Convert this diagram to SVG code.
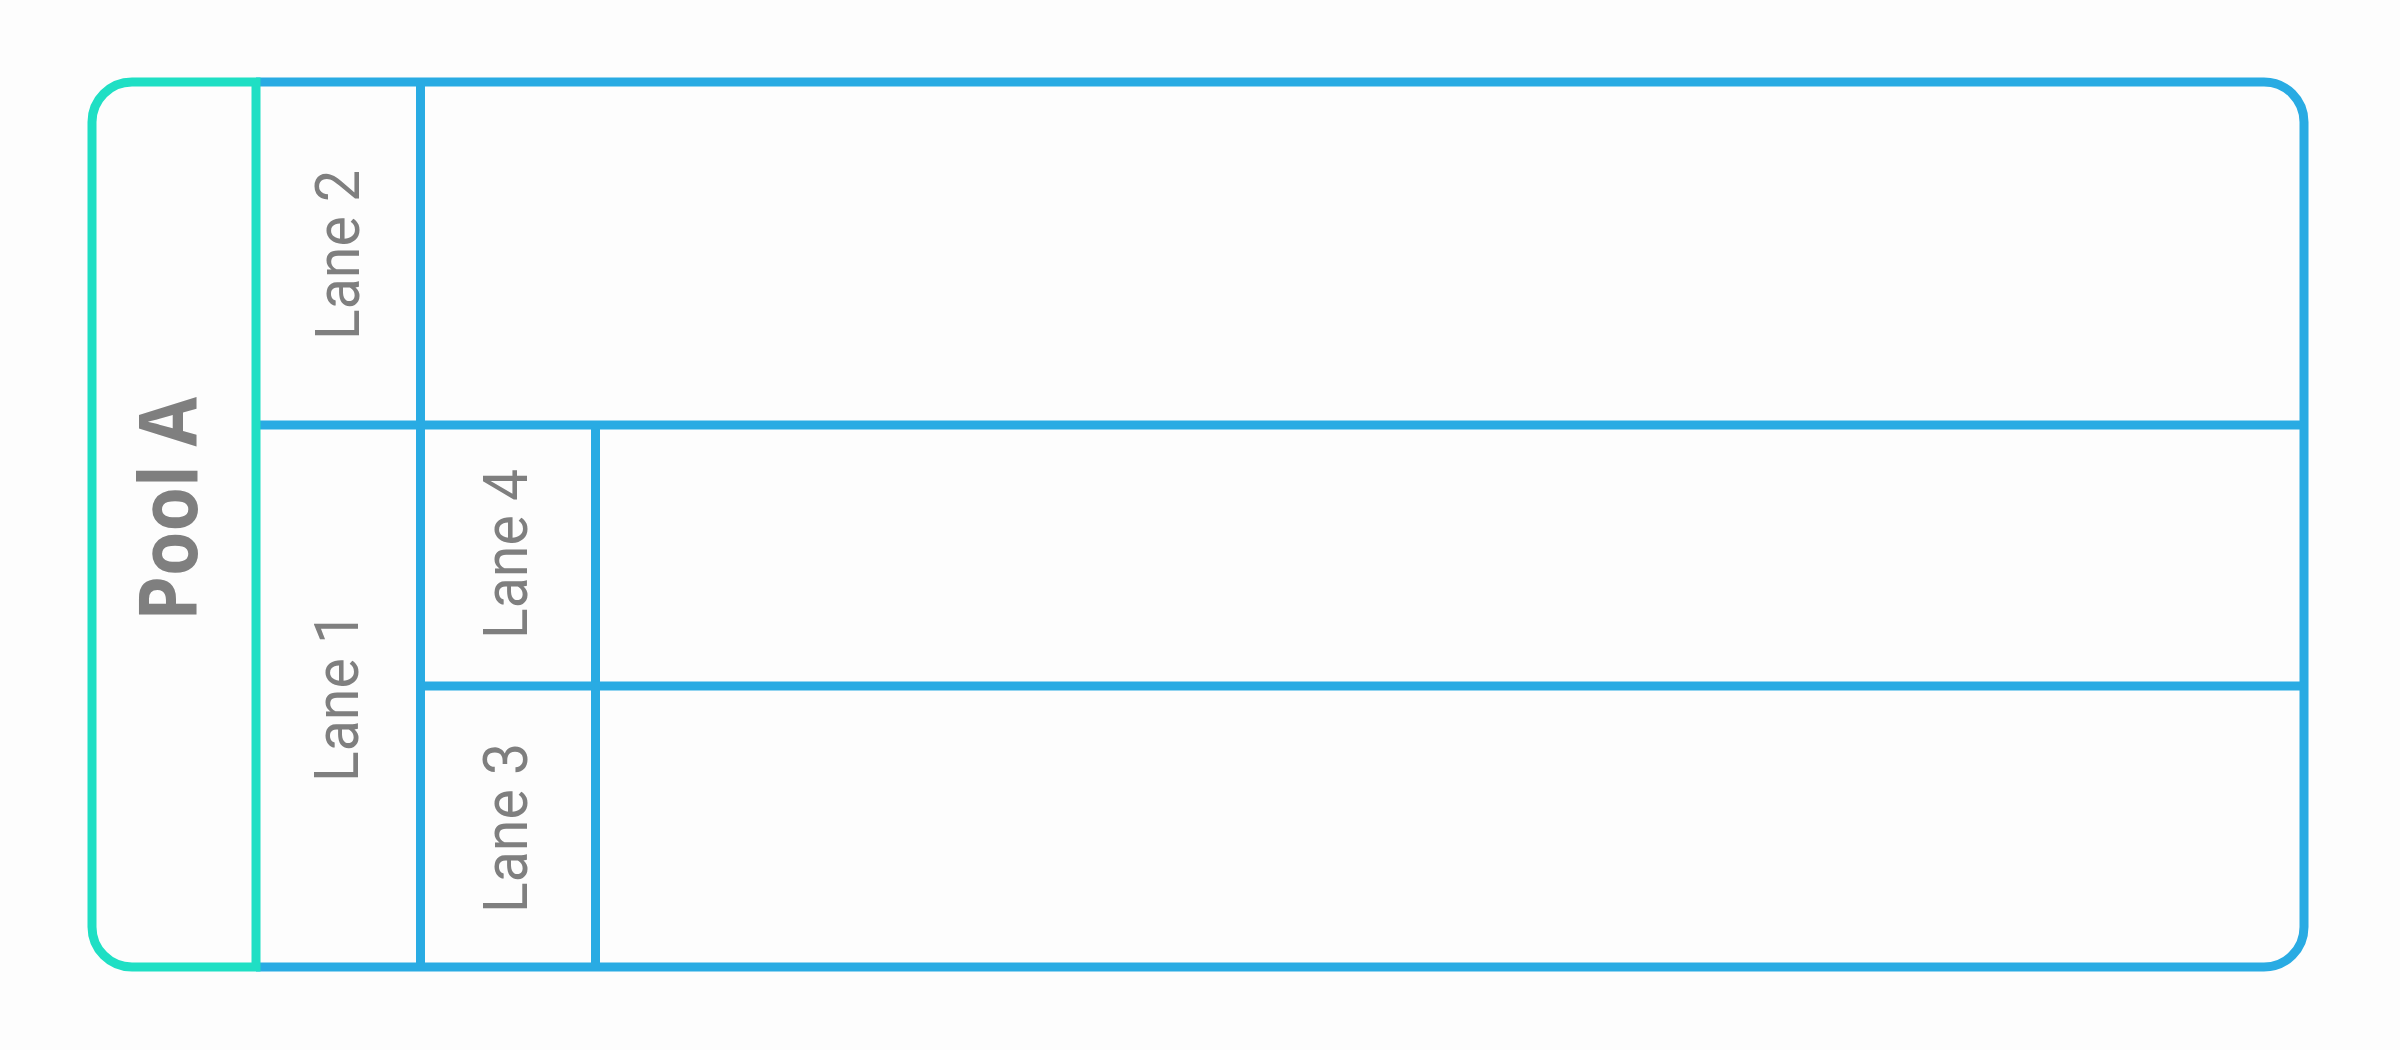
<svg xmlns="http://www.w3.org/2000/svg" width="2400" height="1050" viewBox="0 0 2400 1050">
  <style>
    .blue { fill: none; stroke: #29abe3; stroke-width: 9; }
    .teal { fill: none; stroke: #1fdfc4; stroke-width: 9; }
    .lbl { font-family: Roboto, "Open Sans", "Liberation Sans", sans-serif; font-size: 62px; font-weight: normal; fill: #7f7f7f; text-anchor: middle; }
    .pool { font-family: "Open Sans", "Liberation Sans", sans-serif; font-size: 80px; font-weight: bold; fill: #7f7f7f; text-anchor: middle; }
  </style>
  <rect x="0" y="0" width="2400" height="1050" fill="#fdfdfd"/>
  <g id="connectors"/>
  <g id="lanes-body">
    <path class="blue" d="M 256 82 H 2264 A 40 40 0 0 1 2304 122 V 927 A 40 40 0 0 1 2264 967 H 256"/>
  </g>
  <g id="lane2">
    <line class="blue" x1="256" y1="425" x2="2304" y2="425"/>
    <line class="blue" x1="420.5" y1="82" x2="420.5" y2="967"/>
    <text class="lbl" transform="translate(359,255) rotate(-90)" textLength="170" lengthAdjust="spacingAndGlyphs">Lane 2</text>
  </g>
  <g id="lane1">
    <line class="blue" x1="595.5" y1="425" x2="595.5" y2="967"/>
    <text class="lbl" transform="translate(358,697) rotate(-90)" textLength="170" lengthAdjust="spacingAndGlyphs">Lane 1</text>
  </g>
  <g id="lane4">
    <line class="blue" x1="420.5" y1="686" x2="2304" y2="686"/>
    <text class="lbl" transform="translate(527,554) rotate(-90)" textLength="170" lengthAdjust="spacingAndGlyphs">Lane 4</text>
  </g>
  <g id="lane3">
    <text class="lbl" transform="translate(527,828) rotate(-90)" textLength="170" lengthAdjust="spacingAndGlyphs">Lane 3</text>
  </g>
  <g id="poolA">
    <path class="teal" d="M 256 82 H 132 A 40 40 0 0 0 92 122 V 927 A 40 40 0 0 0 132 967 H 256 Z"/>
    <text class="pool" transform="translate(197,509) rotate(-90)" textLength="224" lengthAdjust="spacingAndGlyphs">Pool A</text>
  </g>
</svg>
